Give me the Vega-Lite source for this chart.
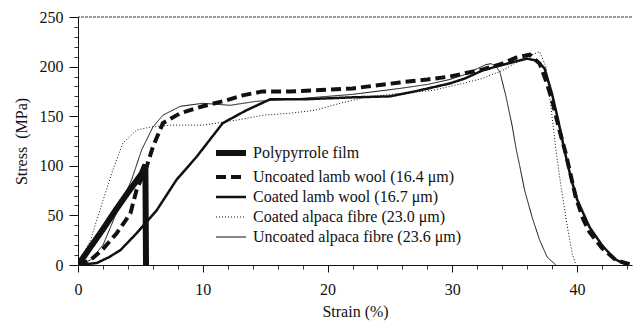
{
 "$schema": "https://vega.github.io/schema/vega-lite/v6.json",
 "width": 554, "height": 248,
 "autosize": {"type": "none"},
 "padding": {"left": 78, "top": 17, "right": 2, "bottom": 59},
 "background": "white",
 "config": {
  "view": {"stroke": null},
  "axis": {"labelFont": "Liberation Serif", "labelFontSize": 16, "labelColor": "#111", "titleFont": "Liberation Serif", "titleFontSize": 16, "titleFontWeight": "normal", "titleColor": "#111", "domainColor": "#111", "tickColor": "#111", "grid": false, "labelBound": false, "labelFlush": false},
  "legend": {"labelFont": "Liberation Serif", "labelFontSize": 16, "labelColor": "#111", "symbolSize": 900, "labelOffset": 14, "rowPadding": 4, "symbolStrokeColor": "#111", "labelLimit": 0}
 },
 "resolve": {"axis": {"x": "independent", "y": "independent"}},
 "data": {"values": [
  {"s":"Polypyrrole film","strain":0,"stress":0},
  {"s":"Polypyrrole film","strain":1,"stress":18},
  {"s":"Polypyrrole film","strain":2,"stress":36},
  {"s":"Polypyrrole film","strain":3,"stress":55},
  {"s":"Polypyrrole film","strain":4,"stress":73},
  {"s":"Polypyrrole film","strain":5.1,"stress":92},
  {"s":"Polypyrrole film","strain":5.4,"stress":101},
  {"s":"Polypyrrole film","strain":5.45,"stress":0},

  {"s":"Uncoated lamb wool (16.4 μm)","strain":0,"stress":0},
  {"s":"Uncoated lamb wool (16.4 μm)","strain":1,"stress":5},
  {"s":"Uncoated lamb wool (16.4 μm)","strain":2,"stress":16},
  {"s":"Uncoated lamb wool (16.4 μm)","strain":3.1,"stress":32},
  {"s":"Uncoated lamb wool (16.4 μm)","strain":4.2,"stress":52},
  {"s":"Uncoated lamb wool (16.4 μm)","strain":4.7,"stress":76},
  {"s":"Uncoated lamb wool (16.4 μm)","strain":5.5,"stress":99},
  {"s":"Uncoated lamb wool (16.4 μm)","strain":6,"stress":119},
  {"s":"Uncoated lamb wool (16.4 μm)","strain":6.8,"stress":143},
  {"s":"Uncoated lamb wool (16.4 μm)","strain":8.2,"stress":153},
  {"s":"Uncoated lamb wool (16.4 μm)","strain":10,"stress":160},
  {"s":"Uncoated lamb wool (16.4 μm)","strain":11.9,"stress":166},
  {"s":"Uncoated lamb wool (16.4 μm)","strain":13.2,"stress":171},
  {"s":"Uncoated lamb wool (16.4 μm)","strain":14.8,"stress":175},
  {"s":"Uncoated lamb wool (16.4 μm)","strain":17,"stress":175},
  {"s":"Uncoated lamb wool (16.4 μm)","strain":19,"stress":176},
  {"s":"Uncoated lamb wool (16.4 μm)","strain":22,"stress":178},
  {"s":"Uncoated lamb wool (16.4 μm)","strain":25.8,"stress":184},
  {"s":"Uncoated lamb wool (16.4 μm)","strain":28,"stress":187},
  {"s":"Uncoated lamb wool (16.4 μm)","strain":29.8,"stress":190},
  {"s":"Uncoated lamb wool (16.4 μm)","strain":32.4,"stress":197},
  {"s":"Uncoated lamb wool (16.4 μm)","strain":34,"stress":203},
  {"s":"Uncoated lamb wool (16.4 μm)","strain":35.1,"stress":209},
  {"s":"Uncoated lamb wool (16.4 μm)","strain":36.2,"stress":212},
  {"s":"Uncoated lamb wool (16.4 μm)","strain":37,"stress":203},
  {"s":"Uncoated lamb wool (16.4 μm)","strain":37.5,"stress":186},
  {"s":"Uncoated lamb wool (16.4 μm)","strain":38,"stress":166},
  {"s":"Uncoated lamb wool (16.4 μm)","strain":38.5,"stress":140},
  {"s":"Uncoated lamb wool (16.4 μm)","strain":39.1,"stress":112},
  {"s":"Uncoated lamb wool (16.4 μm)","strain":39.9,"stress":68},
  {"s":"Uncoated lamb wool (16.4 μm)","strain":40.5,"stress":46},
  {"s":"Uncoated lamb wool (16.4 μm)","strain":41,"stress":33},
  {"s":"Uncoated lamb wool (16.4 μm)","strain":42,"stress":17},
  {"s":"Uncoated lamb wool (16.4 μm)","strain":43.1,"stress":5},
  {"s":"Uncoated lamb wool (16.4 μm)","strain":44.4,"stress":0},

  {"s":"Coated lamb wool (16.7 μm)","strain":0,"stress":0},
  {"s":"Coated lamb wool (16.7 μm)","strain":1.5,"stress":2},
  {"s":"Coated lamb wool (16.7 μm)","strain":2.5,"stress":8},
  {"s":"Coated lamb wool (16.7 μm)","strain":3.4,"stress":15},
  {"s":"Coated lamb wool (16.7 μm)","strain":4.7,"stress":32},
  {"s":"Coated lamb wool (16.7 μm)","strain":6.3,"stress":55},
  {"s":"Coated lamb wool (16.7 μm)","strain":7.9,"stress":86},
  {"s":"Coated lamb wool (16.7 μm)","strain":9.5,"stress":109},
  {"s":"Coated lamb wool (16.7 μm)","strain":11.6,"stress":143},
  {"s":"Coated lamb wool (16.7 μm)","strain":13.5,"stress":156},
  {"s":"Coated lamb wool (16.7 μm)","strain":15.4,"stress":167},
  {"s":"Coated lamb wool (16.7 μm)","strain":18,"stress":167},
  {"s":"Coated lamb wool (16.7 μm)","strain":20,"stress":168},
  {"s":"Coated lamb wool (16.7 μm)","strain":22,"stress":169},
  {"s":"Coated lamb wool (16.7 μm)","strain":25,"stress":170},
  {"s":"Coated lamb wool (16.7 μm)","strain":27,"stress":175},
  {"s":"Coated lamb wool (16.7 μm)","strain":29.8,"stress":183},
  {"s":"Coated lamb wool (16.7 μm)","strain":31,"stress":188},
  {"s":"Coated lamb wool (16.7 μm)","strain":32.4,"stress":196},
  {"s":"Coated lamb wool (16.7 μm)","strain":33.5,"stress":200},
  {"s":"Coated lamb wool (16.7 μm)","strain":35,"stress":205},
  {"s":"Coated lamb wool (16.7 μm)","strain":36,"stress":208},
  {"s":"Coated lamb wool (16.7 μm)","strain":36.8,"stress":206},
  {"s":"Coated lamb wool (16.7 μm)","strain":37.4,"stress":198},
  {"s":"Coated lamb wool (16.7 μm)","strain":38,"stress":172},
  {"s":"Coated lamb wool (16.7 μm)","strain":38.5,"stress":145},
  {"s":"Coated lamb wool (16.7 μm)","strain":39,"stress":115},
  {"s":"Coated lamb wool (16.7 μm)","strain":39.5,"stress":88},
  {"s":"Coated lamb wool (16.7 μm)","strain":40,"stress":66},
  {"s":"Coated lamb wool (16.7 μm)","strain":41,"stress":38},
  {"s":"Coated lamb wool (16.7 μm)","strain":42,"stress":20},
  {"s":"Coated lamb wool (16.7 μm)","strain":43,"stress":6},
  {"s":"Coated lamb wool (16.7 μm)","strain":44,"stress":0},

  {"s":"Coated alpaca fibre (23.0 μm)","strain":0,"stress":0},
  {"s":"Coated alpaca fibre (23.0 μm)","strain":1,"stress":25},
  {"s":"Coated alpaca fibre (23.0 μm)","strain":2,"stress":65},
  {"s":"Coated alpaca fibre (23.0 μm)","strain":2.8,"stress":96},
  {"s":"Coated alpaca fibre (23.0 μm)","strain":3.6,"stress":123},
  {"s":"Coated alpaca fibre (23.0 μm)","strain":4.7,"stress":136},
  {"s":"Coated alpaca fibre (23.0 μm)","strain":5.8,"stress":139},
  {"s":"Coated alpaca fibre (23.0 μm)","strain":7.4,"stress":141},
  {"s":"Coated alpaca fibre (23.0 μm)","strain":10,"stress":141},
  {"s":"Coated alpaca fibre (23.0 μm)","strain":12.7,"stress":146},
  {"s":"Coated alpaca fibre (23.0 μm)","strain":14.8,"stress":151},
  {"s":"Coated alpaca fibre (23.0 μm)","strain":17,"stress":153},
  {"s":"Coated alpaca fibre (23.0 μm)","strain":19,"stress":156},
  {"s":"Coated alpaca fibre (23.0 μm)","strain":21,"stress":163},
  {"s":"Coated alpaca fibre (23.0 μm)","strain":23,"stress":169},
  {"s":"Coated alpaca fibre (23.0 μm)","strain":25,"stress":172},
  {"s":"Coated alpaca fibre (23.0 μm)","strain":28.4,"stress":176},
  {"s":"Coated alpaca fibre (23.0 μm)","strain":30.5,"stress":182},
  {"s":"Coated alpaca fibre (23.0 μm)","strain":32.4,"stress":188},
  {"s":"Coated alpaca fibre (23.0 μm)","strain":34,"stress":196},
  {"s":"Coated alpaca fibre (23.0 μm)","strain":35.4,"stress":206},
  {"s":"Coated alpaca fibre (23.0 μm)","strain":36.4,"stress":212},
  {"s":"Coated alpaca fibre (23.0 μm)","strain":37,"stress":215},
  {"s":"Coated alpaca fibre (23.0 μm)","strain":37.5,"stress":200},
  {"s":"Coated alpaca fibre (23.0 μm)","strain":37.9,"stress":160},
  {"s":"Coated alpaca fibre (23.0 μm)","strain":38.3,"stress":116},
  {"s":"Coated alpaca fibre (23.0 μm)","strain":38.7,"stress":80},
  {"s":"Coated alpaca fibre (23.0 μm)","strain":39.2,"stress":40},
  {"s":"Coated alpaca fibre (23.0 μm)","strain":39.6,"stress":12},
  {"s":"Coated alpaca fibre (23.0 μm)","strain":39.9,"stress":0},

  {"s":"Uncoated alpaca fibre (23.6 μm)","strain":0,"stress":0},
  {"s":"Uncoated alpaca fibre (23.6 μm)","strain":1,"stress":5},
  {"s":"Uncoated alpaca fibre (23.6 μm)","strain":2,"stress":20},
  {"s":"Uncoated alpaca fibre (23.6 μm)","strain":3,"stress":50},
  {"s":"Uncoated alpaca fibre (23.6 μm)","strain":4.3,"stress":86},
  {"s":"Uncoated alpaca fibre (23.6 μm)","strain":5.1,"stress":116},
  {"s":"Uncoated alpaca fibre (23.6 μm)","strain":6,"stress":139},
  {"s":"Uncoated alpaca fibre (23.6 μm)","strain":6.8,"stress":151},
  {"s":"Uncoated alpaca fibre (23.6 μm)","strain":8.2,"stress":160},
  {"s":"Uncoated alpaca fibre (23.6 μm)","strain":10,"stress":163},
  {"s":"Uncoated alpaca fibre (23.6 μm)","strain":12.2,"stress":161},
  {"s":"Uncoated alpaca fibre (23.6 μm)","strain":14.3,"stress":165},
  {"s":"Uncoated alpaca fibre (23.6 μm)","strain":17,"stress":167},
  {"s":"Uncoated alpaca fibre (23.6 μm)","strain":19,"stress":169},
  {"s":"Uncoated alpaca fibre (23.6 μm)","strain":22,"stress":172},
  {"s":"Uncoated alpaca fibre (23.6 μm)","strain":25.8,"stress":178},
  {"s":"Uncoated alpaca fibre (23.6 μm)","strain":28,"stress":182},
  {"s":"Uncoated alpaca fibre (23.6 μm)","strain":29.8,"stress":187},
  {"s":"Uncoated alpaca fibre (23.6 μm)","strain":31,"stress":192},
  {"s":"Uncoated alpaca fibre (23.6 μm)","strain":32,"stress":198},
  {"s":"Uncoated alpaca fibre (23.6 μm)","strain":32.7,"stress":202},
  {"s":"Uncoated alpaca fibre (23.6 μm)","strain":33.1,"stress":203},
  {"s":"Uncoated alpaca fibre (23.6 μm)","strain":33.5,"stress":200},
  {"s":"Uncoated alpaca fibre (23.6 μm)","strain":33.8,"stress":195},
  {"s":"Uncoated alpaca fibre (23.6 μm)","strain":34.3,"stress":170},
  {"s":"Uncoated alpaca fibre (23.6 μm)","strain":34.8,"stress":140},
  {"s":"Uncoated alpaca fibre (23.6 μm)","strain":35.1,"stress":118},
  {"s":"Uncoated alpaca fibre (23.6 μm)","strain":35.4,"stress":100},
  {"s":"Uncoated alpaca fibre (23.6 μm)","strain":35.8,"stress":75},
  {"s":"Uncoated alpaca fibre (23.6 μm)","strain":36.4,"stress":48},
  {"s":"Uncoated alpaca fibre (23.6 μm)","strain":37,"stress":25},
  {"s":"Uncoated alpaca fibre (23.6 μm)","strain":37.6,"stress":8},
  {"s":"Uncoated alpaca fibre (23.6 μm)","strain":38.3,"stress":0}
 ]},
 "layer": [
  {
   "data": {"values": [{}]},
   "mark": {"type": "rule", "stroke": "#333", "strokeWidth": 1, "strokeDash": [3, 1]},
   "encoding": {"y": {"datum": 250, "type": "quantitative", "axis": null}}
  },
  {
   "mark": {"type": "line", "strokeOpacity": 0},
   "encoding": {
    "x": {"field": "strain", "type": "quantitative",
          "axis": {"orient": "bottom", "title": null, "labels": false, "domain": false, "tickSize": 4, "tickColor": "#333",
                   "values": [2,4,6,8,12,14,16,18,22,24,26,28,32,34,36,38,42,44]}},
    "y": {"field": "stress", "type": "quantitative",
          "axis": {"orient": "left", "title": null, "labels": false, "domain": false, "tickSize": 4, "tickColor": "#333",
                   "values": [10,20,30,40,60,70,80,90,110,120,130,140,160,170,180,190,210,220,230,240]}},
    "detail": {"field": "s"}
   }
  },
  {
   "mark": {"type": "line", "stroke": "#111", "clip": true},
   "encoding": {
    "x": {"field": "strain", "type": "quantitative", "scale": {"domain": [0, 44.4], "nice": false, "zero": false},
          "axis": {"orient": "bottom", "title": "Strain (%)", "values": [0, 10, 20, 30, 40], "tickSize": 7,
                   "labelPadding": 9, "titlePadding": 6}},
    "y": {"field": "stress", "type": "quantitative", "scale": {"domain": [0, 250], "nice": false},
          "axis": {"orient": "left", "title": "Stress\u00a0 (MPa)", "values": [0, 50, 100, 150, 200, 250], "tickSize": 9,
                   "labelPadding": 6, "titlePadding": 10}},
    "detail": {"field": "s"},
    "strokeDash": {"field": "s", "type": "nominal",
                   "scale": {"domain": ["Polypyrrole film", "Uncoated lamb wool (16.4 μm)", "Coated lamb wool (16.7 μm)", "Coated alpaca fibre (23.0 μm)", "Uncoated alpaca fibre (23.6 μm)"],
                             "range": [[1, 0], [10, 5], [1, 0], [1, 2], [1, 0]]},
                   "legend": {"title": null, "orient": "none", "legendX": 145, "legendY": 128,
                              "encode": {"symbols": {"update": {"strokeWidth": {"signal": "datum.value === 'Polypyrrole film' ? 6 : datum.value === 'Uncoated lamb wool (16.4 μm)' ? 4 : datum.value === 'Coated lamb wool (16.7 μm)' ? 2.5 : 1"}, "stroke": {"value": "#111"}}}}}},
    "strokeWidth": {"condition": [
        {"test": "datum.s === 'Polypyrrole film'", "value": 6},
        {"test": "datum.s === 'Uncoated lamb wool (16.4 μm)'", "value": 4},
        {"test": "datum.s === 'Coated lamb wool (16.7 μm)'", "value": 2.5}],
      "value": 1}
   }
  }
 ]
}
